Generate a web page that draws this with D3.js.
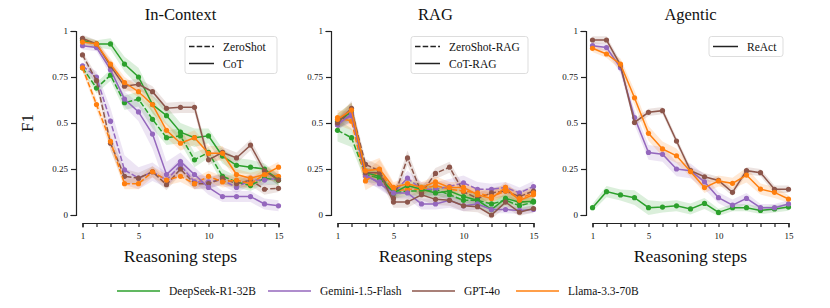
<!DOCTYPE html>
<meta charset="utf-8">
<style>
body { margin: 0; background: #fff; }
text { font-family: "Liberation Serif", "Times New Roman", "DejaVu Serif", serif; fill: #111; }
.axis path, .axis line { stroke: #222; stroke-width: 1.2; }
.axis text { font-size: 9px; }
</style>
<svg width="830" height="308"></svg>
<script src="https://d3js.org/d3.v7.min.js"></script>
<script>

// ---- data ----
var steps = [1, 2, 3, 4, 5, 6, 7, 8, 9, 10, 11, 12, 13, 14, 15];
var models = ["DeepSeek-R1-32B", "Gemini-1.5-Flash", "GPT-4o", "Llama-3.3-70B"];
var colors = ["#2ca02c", "#9467bd", "#8c564b", "#ff7f0e"];
var yTicks = [0, 0.25, 0.5, 0.75, 1];
var xTickLabels = [1, 5, 10, 15];

// In-Context, ZeroShot (dashed)
var icZsDeepSeek = [0.80, 0.69, 0.76, 0.61, 0.63, 0.52, 0.42, 0.43, 0.30, 0.34, 0.21, 0.18, 0.16, 0.20, 0.19];
var icZsGemini   = [0.81, 0.75, 0.51, 0.245, 0.20, 0.235, 0.19, 0.27, 0.18, 0.18, 0.19, 0.15, 0.19, 0.19, 0.20];
var icZsGPT      = [0.87, 0.73, 0.39, 0.21, 0.20, 0.235, 0.165, 0.25, 0.17, 0.17, 0.20, 0.17, 0.19, 0.14, 0.145];
var icZsLlama    = [0.80, 0.60, 0.40, 0.17, 0.17, 0.235, 0.19, 0.21, 0.17, 0.21, 0.18, 0.19, 0.17, 0.22, 0.21];
// In-Context, CoT (solid)
var icCotDeepSeek = [0.95, 0.93, 0.93, 0.82, 0.75, 0.60, 0.54, 0.45, 0.42, 0.43, 0.32, 0.27, 0.26, 0.25, 0.19];
var icCotGemini   = [0.92, 0.91, 0.79, 0.63, 0.56, 0.44, 0.22, 0.29, 0.22, 0.15, 0.10, 0.10, 0.10, 0.06, 0.05];
var icCotGPT      = [0.96, 0.93, 0.81, 0.70, 0.71, 0.67, 0.58, 0.585, 0.585, 0.30, 0.34, 0.31, 0.38, 0.24, 0.19];
var icCotLlama    = [0.94, 0.93, 0.82, 0.72, 0.67, 0.60, 0.46, 0.39, 0.42, 0.335, 0.335, 0.22, 0.20, 0.22, 0.26];

// RAG, ZeroShot-RAG (dashed)
var ragZsDeepSeek = [0.46, 0.42, 0.22, 0.20, 0.12, 0.13, 0.13, 0.14, 0.11, 0.08, 0.08, 0.06, 0.08, 0.05, 0.07];
var ragZsGemini   = [0.50, 0.54, 0.21, 0.18, 0.12, 0.20, 0.14, 0.14, 0.155, 0.175, 0.14, 0.14, 0.15, 0.12, 0.155];
var ragZsGPT      = [0.49, 0.57, 0.275, 0.24, 0.09, 0.31, 0.12, 0.226, 0.26, 0.127, 0.09, 0.12, 0.13, 0.10, 0.13];
var ragZsLlama    = [0.53, 0.51, 0.185, 0.24, 0.13, 0.14, 0.14, 0.16, 0.14, 0.13, 0.12, 0.10, 0.13, 0.09, 0.12];
// RAG, CoT-RAG (solid)
var ragCotDeepSeek = [0.51, 0.56, 0.23, 0.21, 0.12, 0.16, 0.14, 0.12, 0.13, 0.10, 0.08, 0.03, 0.09, 0.07, 0.075];
var ragCotGemini   = [0.49, 0.55, 0.22, 0.17, 0.12, 0.12, 0.06, 0.06, 0.08, 0.05, 0.06, 0.03, 0.03, 0.025, 0.03];
var ragCotGPT      = [0.50, 0.58, 0.23, 0.23, 0.07, 0.07, 0.11, 0.085, 0.08, 0.05, 0.045, 0.0, 0.07, 0.015, 0.035];
var ragCotLlama    = [0.52, 0.57, 0.24, 0.25, 0.15, 0.17, 0.15, 0.18, 0.15, 0.15, 0.11, 0.09, 0.15, 0.08, 0.11];

// Agentic, ReAct (solid)
var agDeepSeek = [0.04, 0.127, 0.109, 0.094, 0.04, 0.043, 0.05, 0.033, 0.063, 0.014, 0.04, 0.04, 0.025, 0.033, 0.043];
var agGemini   = [0.92, 0.91, 0.80, 0.53, 0.34, 0.33, 0.25, 0.24, 0.18, 0.094, 0.054, 0.09, 0.04, 0.04, 0.06];
var agGPT      = [0.951, 0.951, 0.815, 0.503, 0.558, 0.567, 0.402, 0.241, 0.208, 0.188, 0.123, 0.241, 0.23, 0.14, 0.14];
var agLlama    = [0.906, 0.875, 0.82, 0.637, 0.444, 0.359, 0.322, 0.236, 0.149, 0.185, 0.172, 0.217, 0.141, 0.123, 0.087];

// half-width of the shaded bands
var icZsDeepSeekErr = [0.02, 0.03, 0.03, 0.04, 0.04, 0.05, 0.04, 0.04, 0.04, 0.03, 0.04, 0.03, 0.03, 0.03, 0.03];
var icZsGeminiErr   = [0.02, 0.03, 0.07, 0.08, 0.06, 0.05, 0.04, 0.04, 0.04, 0.03, 0.03, 0.03, 0.03, 0.03, 0.03];
var icZsGPTErr      = [0.02, 0.03, 0.04, 0.04, 0.03, 0.03, 0.03, 0.03, 0.03, 0.03, 0.03, 0.03, 0.03, 0.03, 0.02];
var icZsLlamaErr    = [0.02, 0.03, 0.04, 0.03, 0.03, 0.03, 0.03, 0.03, 0.03, 0.03, 0.03, 0.03, 0.03, 0.03, 0.03];
var icCotDeepSeekErr = [0.02, 0.02, 0.03, 0.04, 0.05, 0.05, 0.05, 0.05, 0.05, 0.04, 0.04, 0.04, 0.04, 0.03, 0.03];
var icCotGeminiErr   = [0.02, 0.02, 0.03, 0.04, 0.05, 0.08, 0.07, 0.05, 0.04, 0.04, 0.03, 0.03, 0.03, 0.03, 0.03];
var icCotGPTErr      = [0.02, 0.02, 0.03, 0.03, 0.03, 0.03, 0.03, 0.03, 0.03, 0.03, 0.03, 0.03, 0.03, 0.03, 0.03];
var icCotLlamaErr    = [0.02, 0.02, 0.03, 0.03, 0.03, 0.04, 0.04, 0.04, 0.04, 0.04, 0.04, 0.03, 0.03, 0.03, 0.03];
var ragZsDeepSeekErr = [0.06, 0.05, 0.04, 0.03, 0.03, 0.03, 0.03, 0.03, 0.03, 0.03, 0.03, 0.03, 0.03, 0.03, 0.03];
var ragZsGeminiErr   = [0.03, 0.04, 0.04, 0.03, 0.03, 0.04, 0.04, 0.04, 0.04, 0.04, 0.04, 0.03, 0.03, 0.03, 0.03];
var ragZsGPTErr      = [0.03, 0.04, 0.03, 0.03, 0.03, 0.04, 0.03, 0.03, 0.03, 0.03, 0.03, 0.03, 0.03, 0.03, 0.03];
var ragZsLlamaErr    = [0.04, 0.05, 0.05, 0.06, 0.04, 0.03, 0.03, 0.03, 0.03, 0.03, 0.03, 0.03, 0.03, 0.03, 0.03];
var ragCotDeepSeekErr = [0.04, 0.05, 0.03, 0.03, 0.03, 0.03, 0.03, 0.03, 0.03, 0.03, 0.03, 0.03, 0.03, 0.02, 0.02];
var ragCotGeminiErr   = [0.03, 0.04, 0.03, 0.03, 0.03, 0.03, 0.03, 0.03, 0.04, 0.03, 0.03, 0.02, 0.02, 0.02, 0.02];
var ragCotGPTErr      = [0.03, 0.04, 0.03, 0.03, 0.03, 0.03, 0.03, 0.03, 0.03, 0.03, 0.03, 0.02, 0.03, 0.02, 0.02];
var ragCotLlamaErr    = [0.03, 0.04, 0.04, 0.06, 0.03, 0.03, 0.03, 0.03, 0.03, 0.03, 0.03, 0.03, 0.03, 0.03, 0.03];
var agDeepSeekErr = [0.02, 0.03, 0.03, 0.04, 0.04, 0.03, 0.03, 0.03, 0.03, 0.02, 0.02, 0.02, 0.02, 0.02, 0.02];
var agGeminiErr   = [0.02, 0.02, 0.03, 0.04, 0.04, 0.04, 0.04, 0.04, 0.04, 0.03, 0.03, 0.03, 0.02, 0.02, 0.02];
var agGPTErr      = [0.02, 0.02, 0.02, 0.02, 0.02, 0.02, 0.02, 0.02, 0.02, 0.02, 0.02, 0.02, 0.02, 0.02, 0.02];
var agLlamaErr    = [0.02, 0.02, 0.03, 0.04, 0.04, 0.04, 0.04, 0.03, 0.03, 0.03, 0.03, 0.04, 0.03, 0.03, 0.02];

// ---- layout ----
var svg = d3.select("svg");

var panels = [
  { title: "In-Context", left: 76, legend: ["ZeroShot", "CoT"], legendX: 185, legendW: 92,
    series: [
      [icZsDeepSeek, icZsDeepSeekErr, 0, true], [icZsGemini, icZsGeminiErr, 1, true],
      [icZsGPT, icZsGPTErr, 2, true], [icZsLlama, icZsLlamaErr, 3, true],
      [icCotDeepSeek, icCotDeepSeekErr, 0, false], [icCotGemini, icCotGeminiErr, 1, false],
      [icCotGPT, icCotGPTErr, 2, false], [icCotLlama, icCotLlamaErr, 3, false]] },
  { title: "RAG", left: 331, legend: ["ZeroShot-RAG", "CoT-RAG"], legendX: 411, legendW: 117,
    series: [
      [ragZsDeepSeek, ragZsDeepSeekErr, 0, true], [ragZsGemini, ragZsGeminiErr, 1, true],
      [ragZsGPT, ragZsGPTErr, 2, true], [ragZsLlama, ragZsLlamaErr, 3, true],
      [ragCotDeepSeek, ragCotDeepSeekErr, 0, false], [ragCotGemini, ragCotGeminiErr, 1, false],
      [ragCotGPT, ragCotGPTErr, 2, false], [ragCotLlama, ragCotLlamaErr, 3, false]] },
  { title: "Agentic", left: 586, legend: ["ReAct"], legendX: 709, legendW: 74,
    series: [
      [agDeepSeek, agDeepSeekErr, 0, false], [agGemini, agGeminiErr, 1, false],
      [agGPT, agGPTErr, 2, false], [agLlama, agLlamaErr, 3, false]] }
];

var y = d3.scaleLinear().domain([0, 1]).range([215, 31]);

panels.forEach(function(p) {
  var x = d3.scaleLinear().domain([1, 15]).range([p.left + 6.5, p.left + 202.5]);
  var g = svg.append("g");

  // y axis
  g.append("g")
      .attr("class", "axis")
      .attr("transform", "translate(" + p.left + ",0)")
      .call(d3.axisLeft(y).tickValues(yTicks).tickSize(5).tickPadding(3)
        .tickFormat(function(d) { return d3.format("")(d); }));

  // x axis, every step ticked, labels only on some
  g.append("g")
      .attr("class", "axis")
      .attr("transform", "translate(0,223)")
      .call(d3.axisBottom(x).tickValues(steps).tickSize(4).tickPadding(6)
        .tickFormat(function(d) { return xTickLabels.indexOf(d) >= 0 ? d : ""; }));
  g.selectAll(".axis .domain").attr("stroke-linecap", "square");

  g.append("text")
      .attr("x", (x(1) + x(15)) / 2).attr("y", 20)
      .attr("text-anchor", "middle")
      .style("font-size", "16.5px")
      .text(p.title);

  g.append("text")
      .attr("x", (x(1) + x(15)) / 2).attr("y", 262)
      .attr("text-anchor", "middle")
      .style("font-size", "17.5px")
      .text("Reasoning steps");

  var area = d3.area()
      .x(function(d, i) { return x(steps[i]); })
      .y0(function(d) { return y(d[0] - d[1]); })
      .y1(function(d) { return y(d[0] + d[1]); });
  var line = d3.line()
      .x(function(d, i) { return x(steps[i]); })
      .y(function(d) { return y(d); });

  p.series.forEach(function(s) {
    var vals = s[0], err = s[1];
    g.append("path")
        .datum(vals.map(function(v, i) { return [v, err[i]]; }))
        .attr("fill", colors[s[2]])
        .attr("fill-opacity", 0.17)
        .attr("d", area);
  });

  p.series.forEach(function(s) {
    var c = colors[s[2]];
    g.append("path")
        .datum(s[0])
        .attr("fill", "none")
        .attr("stroke", c)
        .attr("stroke-width", 1.5)
        .attr("stroke-dasharray", s[3] ? "5.5,2.2" : null)
        .attr("d", line);
    g.selectAll(null)
        .data(s[0])
        .enter().append("circle")
        .attr("cx", function(d, i) { return x(steps[i]); })
        .attr("cy", function(d) { return y(d); })
        .attr("r", 2.6)
        .attr("fill", c);
  });

  // style legend in the panel
  var lg = g.append("g").attr("transform", "translate(" + p.legendX + ",36.5)");
  lg.append("rect")
      .attr("width", p.legendW).attr("height", 3 + 17 * p.legend.length)
      .attr("rx", 2.5)
      .attr("fill", "#fff").attr("fill-opacity", 0.85)
      .attr("stroke", "#d4d4d4").attr("stroke-width", 0.8);
  p.legend.forEach(function(name, i) {
    var dashed = p.legend.length > 1 && i === 0;
    var yy = 10 + 17 * i;
    lg.append("line")
        .attr("x1", 4).attr("x2", 29).attr("y1", yy).attr("y2", yy)
        .attr("stroke", "#222").attr("stroke-width", 1.5)
        .attr("stroke-dasharray", dashed ? "5.5,2.2" : null);
    lg.append("text")
        .attr("x", 38).attr("y", yy + 4)
        .style("font-size", "11.5px")
        .text(name);
  });
});

// y label
svg.append("text")
    .attr("transform", "translate(33,123) rotate(-90)")
    .attr("text-anchor", "middle")
    .style("font-size", "17px")
    .text("F1");

// model legend at bottom
var legendX = [117, 268, 412, 516];
var bottom = svg.append("g");
models.forEach(function(m, i) {
  bottom.append("line")
      .attr("x1", legendX[i]).attr("x2", legendX[i] + 43)
      .attr("y1", 291).attr("y2", 291)
      .attr("stroke", colors[i]).attr("stroke-width", 1.5);
  bottom.append("text")
      .attr("x", legendX[i] + 52).attr("y", 295)
      .style("font-size", "11.5px")
      .text(m);
});

</script>
